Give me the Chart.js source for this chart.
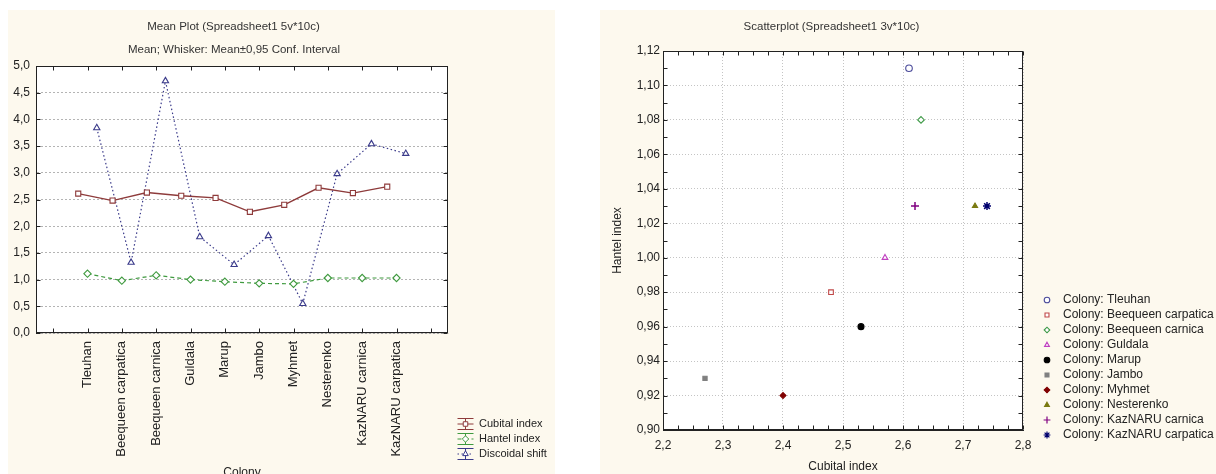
<!DOCTYPE html>
<html>
<head>
<meta charset="utf-8">
<script src="https://cdn.jsdelivr.net/npm/chart.js@4.4.1/dist/chart.umd.min.js"></script>
<style>
html, body { margin: 0; padding: 0; width: 1216px; height: 474px; overflow: hidden; background: #fff; }
.panel { position: absolute; top: 10px; height: 464px; background: #fdf9ee; }
#p1 { left: 8px; width: 547px; }
#p2 { left: 600px; width: 616px; }
canvas { position: absolute; top: 10px; }
#meanPlot { left: 8px; }
#scatterPlot { left: 600px; }
</style>
</head>
<body>
<div class="panel" id="p1"></div>
<div class="panel" id="p2"></div>
<canvas id="meanPlot" width="547" height="480"></canvas>
<canvas id="scatterPlot" width="616" height="480"></canvas>
<script>
const colonies = ['Tleuhan', 'Beequeen carpatica', 'Beequeen carnica', 'Guldala', 'Marup',
  'Jambo', 'Myhmet', 'Nesterenko', 'KazNARU carnica', 'KazNARU carpatica'];
const cubital = [2.61, 2.48, 2.63, 2.57, 2.53, 2.27, 2.40, 2.72, 2.62, 2.74];
const hantel = [1.11, 0.98, 1.08, 1.00, 0.96, 0.93, 0.92, 1.03, 1.03, 1.03];
const discoidal = [3.84, 1.32, 4.72, 1.80, 1.28, 1.82, 0.55, 2.98, 3.54, 3.36];
const seriesNames = ['Cubital index', 'Hantel index', 'Discoidal shift'];

// tick labels
const meanYTicks = [0, 0.5, 1, 1.5, 2, 2.5, 3, 3.5, 4, 4.5, 5];
const meanXTicks = [-1, 0, 1, 2, 3, 4, 5, 6, 7, 8, 9, 10];

// marker styles for the scatter plot
const markerStyles = ['circle', 'rect', 'rectRot', 'triangle', 'circle', 'rect', 'rectRot', 'triangle', 'cross', 'star'];
const markerColors = ['#4a4a9a', '#c04848', '#3f9a48', '#c040c0', '#000000', '#808080', '#800000', '#7a7a10', '#800080', '#00006e'];
const markerFilled = [false, false, false, false, true, true, true, true, true, true];

Chart.defaults.font.family = "'Liberation Sans', Arial, sans-serif";
Chart.defaults.color = '#222';
Chart.defaults.animation = false;

const comma = (v, d) => v.toFixed(d).replace('.', ',');
const FONT = "'Liberation Sans', Arial, sans-serif";

function drawMarker(ctx, style, r, x, y, bw) {
  Chart.helpers.drawPoint(ctx, { pointStyle: style, radius: r, rotation: 0, borderWidth: bw }, x, y);
}

// white plot area, frame, inward tick marks, titles, legend
function makeFrame(cfg) {
  return {
    id: 'frame',
    beforeDraw(chart) {
      const { ctx, chartArea: a } = chart;
      ctx.save();
      ctx.fillStyle = '#fff';
      ctx.fillRect(a.left, a.top, a.width, a.height);
      ctx.restore();
    },
    afterDraw(chart) {
      const { ctx, chartArea: a, scales: { x, y } } = chart;
      const L = Math.round(a.left) + 0.5, R = Math.round(a.right) - 0.5;
      const T = Math.round(a.top) + 0.5, B = Math.round(a.bottom) - 0.5;
      ctx.save();
      ctx.strokeStyle = '#222';
      ctx.lineWidth = 1;
      ctx.setLineDash([]);
      ctx.strokeRect(L, T, R - L, B - T);
      ctx.beginPath();
      cfg.xMarks.forEach(v => {
        const px = Math.round(x.getPixelForValue(v)) + 0.5;
        ctx.moveTo(px, B); ctx.lineTo(px, B - 4);
        ctx.moveTo(px, T); ctx.lineTo(px, T + 4);
      });
      cfg.yMarks.forEach(v => {
        const py = Math.round(y.getPixelForValue(v)) + 0.5;
        ctx.moveTo(L, py); ctx.lineTo(L + 4, py);
        ctx.moveTo(R, py); ctx.lineTo(R - 4, py);
      });
      ctx.stroke();
      ctx.fillStyle = '#333';
      ctx.textAlign = 'center';
      ctx.textBaseline = 'middle';
      cfg.titles.forEach(t => {
        ctx.font = t.size + 'px ' + FONT;
        ctx.fillText(t.text, t.x, t.y);
      });
      cfg.legend(chart, ctx);
      ctx.restore();
    }
  };
}

function drawMeanLegend(chart, ctx) {
  chart.data.datasets.forEach((ds, i) => {
    const cy = 414 + i * 15, cx = 457.5;
    ctx.strokeStyle = ds.borderColor;
    ctx.lineWidth = 1;
    ctx.setLineDash([]);
    ctx.beginPath();
    ctx.moveTo(cx - 8, cy - 5.5); ctx.lineTo(cx + 8, cy - 5.5);
    ctx.moveTo(cx - 8, cy + 5.5); ctx.lineTo(cx + 8, cy + 5.5);
    ctx.moveTo(cx, cy - 5.5); ctx.lineTo(cx, cy + 5.5);
    ctx.stroke();
    ctx.setLineDash(ds.borderDash || []);
    ctx.beginPath();
    ctx.moveTo(cx - 8, cy); ctx.lineTo(cx + 8, cy);
    ctx.stroke();
    ctx.setLineDash([]);
    ctx.fillStyle = '#fff';
    drawMarker(ctx, ds.pointStyle, 3.2, cx, cy, 1);
    ctx.fillStyle = '#222';
    ctx.font = '11px ' + FONT;
    ctx.textAlign = 'left';
    ctx.fillText(ds.label, 471, cy);
  });
}

function drawScatterLegend(chart, ctx) {
  chart.data.datasets.forEach((ds, i) => {
    const cy = 290 + i * 15;
    const line = ds.pointStyle === 'star' || ds.pointStyle === 'cross';
    ctx.strokeStyle = ds.pointBorderColor;
    ctx.fillStyle = ds.pointBackgroundColor;
    ctx.lineWidth = line ? 1.2 : ds.pointBorderWidth;
    drawMarker(ctx, ds.pointStyle, line ? 3.4 : 2.8, 447, cy, ctx.lineWidth);
    ctx.fillStyle = '#222';
    ctx.font = '12px ' + FONT;
    ctx.textAlign = 'left';
    ctx.fillText(ds.label, 463, cy);
  });
}

// ---------- Mean plot ----------
const shifts = [-0.27, 0, 0.27];
const meanValues = [cubital, hantel, discoidal];
const lineColors = ['#8e3b3b', '#3f9a3f', '#3a3a8a'];
const lineDashes = [[], [4, 3], [1.5, 2.5]];
const lineMarkers = ['rect', 'rectRot', 'triangle'];

new Chart(document.getElementById('meanPlot'), {
  type: 'line',
  data: {
    datasets: seriesNames.map((name, s) => ({
      label: name,
      data: meanValues[s].map((v, i) => ({ x: i + shifts[s], y: v })),
      borderColor: lineColors[s],
      borderWidth: s === 0 ? 1.4 : 1.2,
      borderDash: lineDashes[s],
      pointStyle: lineMarkers[s],
      pointRadius: 3.6,
      pointBackgroundColor: '#fff',
      pointBorderColor: lineColors[s],
      pointBorderWidth: 1.1,
      tension: 0
    }))
  },
  options: {
    responsive: false,
    layout: { padding: { top: 56, left: 0, right: 107, bottom: 10 } },
    plugins: { legend: { display: false }, tooltip: { enabled: false } },
    scales: {
      x: {
        type: 'linear', min: -1.5, max: 10.5,
        afterBuildTicks: s => { s.ticks = meanXTicks.map(v => ({ value: v })); },
        afterFit: s => { s.height = 147; },
        grid: { display: false },
        ticks: {
          autoSkip: false, minRotation: 90, maxRotation: 90, padding: 0,
          font: { size: 13 }, color: '#222',
          callback: v => colonies[v] || ''
        },
        title: { display: true, text: 'Colony', font: { size: 12 }, padding: 0, color: '#222' }
      },
      y: {
        min: 0, max: 5,
        afterBuildTicks: s => { s.ticks = meanYTicks.map(v => ({ value: v })); },
        afterFit: s => { s.width = 28; },
        grid: { color: '#b4b4b4', drawTicks: false },
        border: { dash: [2, 2], color: '#222' },
        ticks: { padding: 6, font: { size: 12 }, color: '#222', callback: v => comma(v, 1) }
      }
    }
  },
  plugins: [makeFrame({
    xMarks: meanXTicks,
    yMarks: meanYTicks,
    titles: [
      { text: 'Mean Plot (Spreadsheet1 5v*10c)', x: 225.5, y: 17, size: 11.5 },
      { text: 'Mean; Whisker: Mean\u00b10,95 Conf. Interval', x: 226, y: 40, size: 11.5 }
    ],
    legend: drawMeanLegend
  })]
});

// ---------- Scatterplot ----------
const scatterXTicks = [2.2, 2.3, 2.4, 2.5, 2.6, 2.7, 2.8];
const scatterYTicks = [0.90, 0.92, 0.94, 0.96, 0.98, 1.00, 1.02, 1.04, 1.06, 1.08, 1.10, 1.12];
const xMinor = [], yMinor = [];
for (let k = 0; k <= 24; k++) xMinor.push(2.2 + k * 0.025);
for (let k = 0; k <= 22; k++) yMinor.push(0.90 + k * 0.01);

new Chart(document.getElementById('scatterPlot'), {
  type: 'scatter',
  data: {
    datasets: colonies.map((name, i) => {
      const line = markerStyles[i] === 'cross' || markerStyles[i] === 'star';
      return {
        label: 'Colony: ' + name,
        data: [{ x: cubital[i], y: hantel[i] }],
        pointStyle: markerStyles[i],
        pointRadius: line ? 4 : (markerFilled[i] ? 3 : 3.3),
        pointBorderColor: markerColors[i],
        pointBackgroundColor: markerFilled[i] ? markerColors[i] : '#fff',
        pointBorderWidth: line ? 1.5 : 1.1
      };
    })
  },
  options: {
    responsive: false,
    layout: { padding: { top: 41, left: 0, right: 193, bottom: 16 } },
    plugins: { legend: { display: false }, tooltip: { enabled: false } },
    scales: {
      x: {
        type: 'linear', min: 2.2, max: 2.8,
        afterBuildTicks: s => { s.ticks = scatterXTicks.map(v => ({ value: v })); },
        afterFit: s => { s.height = 44; },
        grid: { color: '#c4c4c4', drawTicks: false },
        border: { dash: [1, 2], color: '#222' },
        ticks: { padding: 8, font: { size: 12 }, color: '#222', callback: v => comma(v, 1) },
        title: { display: true, text: 'Cubital index', font: { size: 12 }, padding: 0, color: '#222' }
      },
      y: {
        min: 0.9, max: 1.12,
        afterBuildTicks: s => { s.ticks = scatterYTicks.map(v => ({ value: v })); },
        afterFit: s => { s.width = 63; },
        grid: { color: '#c4c4c4', drawTicks: false },
        border: { dash: [1, 2], color: '#222' },
        ticks: { padding: 3, font: { size: 12 }, color: '#222', callback: v => comma(v, 2) },
        title: { display: true, text: 'Hantel index', font: { size: 12 }, padding: { top: 10, bottom: 0 }, color: '#222' }
      }
    }
  },
  plugins: [makeFrame({
    xMarks: xMinor,
    yMarks: yMinor,
    titles: [{ text: 'Scatterplot (Spreadsheet1 3v*10c)', x: 231.5, y: 17, size: 11.5 }],
    legend: drawScatterLegend
  })]
});
</script>
</body>
</html>
